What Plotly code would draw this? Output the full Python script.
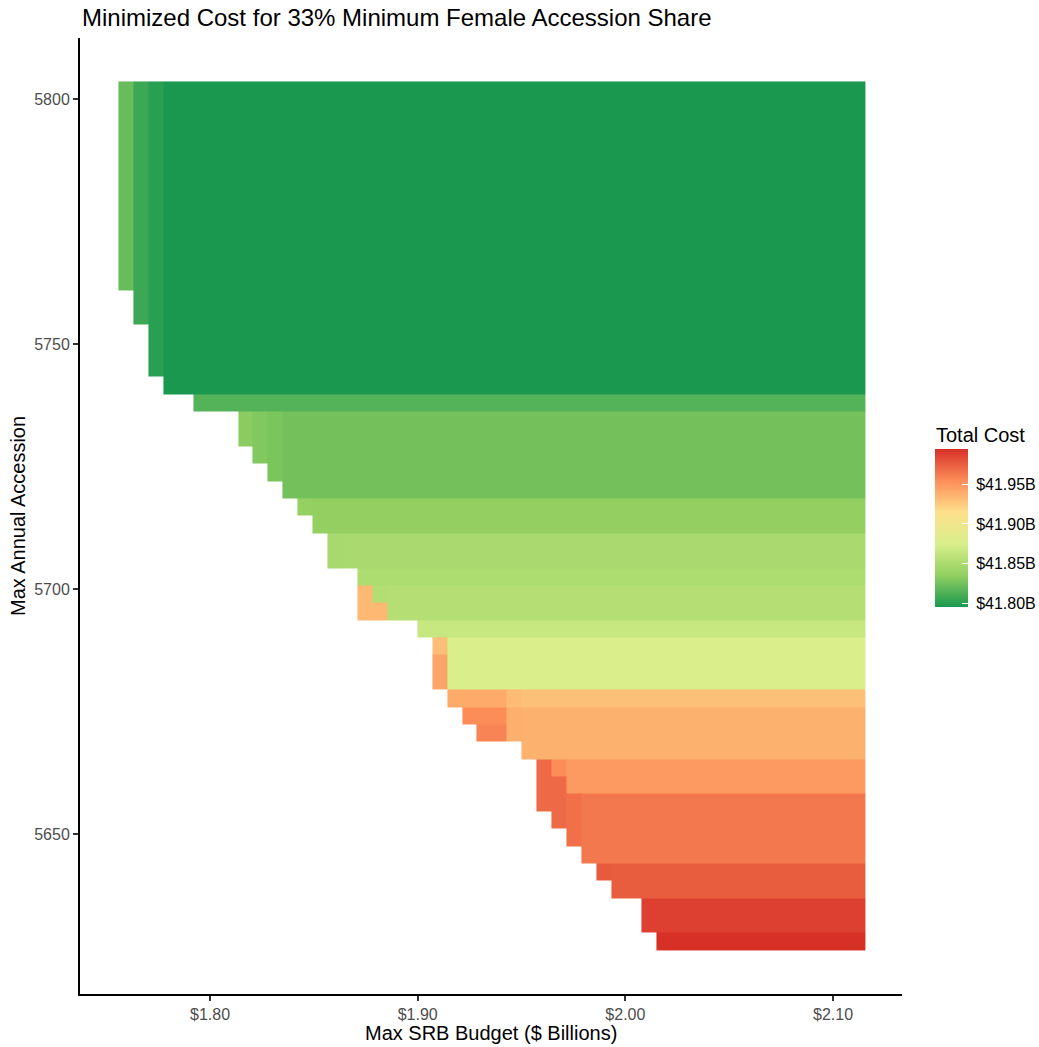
import plotly.graph_objects as go

# Max SRB Budget ($ billions) - tile centres (columns)
budget = [1.7595, 1.7667, 1.7739, 1.7811, 1.7883, 1.7955, 1.8027, 1.8099, 1.8171, 1.8242,
          1.8314, 1.8386, 1.8458, 1.8530, 1.8602, 1.8674, 1.8746, 1.8818, 1.8889, 1.8961,
          1.9033, 1.9105, 1.9177, 1.9249, 1.9321, 1.9393, 1.9465, 1.9537, 1.9608, 1.9680,
          1.9752, 1.9824, 1.9896, 1.9968, 2.0040, 2.0112, 2.0184, 2.0255, 2.0327, 2.0399,
          2.0471, 2.0543, 2.0615, 2.0687, 2.0759, 2.0831, 2.0902, 2.0974, 2.1046, 2.1118]

# Max Annual Accession - tile centres, listed from the top row down
accession = [5801.81, 5798.26, 5794.72, 5791.17, 5787.63, 5784.08, 5780.54, 5776.99, 5773.45, 5769.90,
             5766.36, 5762.81, 5759.27, 5755.72, 5752.18, 5748.63, 5745.09, 5741.54, 5738.00, 5734.45,
             5730.91, 5727.36, 5723.82, 5720.27, 5716.73, 5713.18, 5709.64, 5706.09, 5702.55, 5699.00,
             5695.46, 5691.91, 5688.37, 5684.82, 5681.28, 5677.73, 5674.19, 5670.64, 5667.10, 5663.55,
             5660.01, 5656.46, 5652.92, 5649.37, 5645.83, 5642.28, 5638.74, 5635.19, 5631.65, 5628.10]

# first feasible budget column of each accession row (top row first)
row_first_col = [0, 0, 0, 0, 0, 0, 0, 0, 0, 0,
                 0, 0, 1, 1, 2, 2, 2, 3, 5, 8,
                 8, 9, 10, 11, 12, 13, 14, 14, 16, 16,
                 16, 20, 21, 21, 21, 22, 23, 24, 27, 28,
                 28, 28, 29, 30, 31, 32, 33, 35, 35, 36]

# total cost ($ billions) of the cells from the first feasible column on;
# the last value holds for the rest of the row
row_costs = [
    [41.8224, 41.8074, 41.8011, 41.7960],
    [41.8224, 41.8074, 41.8011, 41.7960],
    [41.8224, 41.8074, 41.8011, 41.7960],
    [41.8224, 41.8074, 41.8011, 41.7960],
    [41.8224, 41.8074, 41.8011, 41.7960],
    [41.8224, 41.8074, 41.8011, 41.7960],
    [41.8224, 41.8074, 41.8011, 41.7960],
    [41.8224, 41.8074, 41.8011, 41.7960],
    [41.8224, 41.8074, 41.8011, 41.7960],
    [41.8224, 41.8074, 41.8011, 41.7960],
    [41.8224, 41.8074, 41.8011, 41.7960],
    [41.8224, 41.8074, 41.8011, 41.7960],
    [41.8074, 41.8011, 41.7960],
    [41.8074, 41.8011, 41.7960],
    [41.8011, 41.7960],
    [41.8011, 41.7960],
    [41.8011, 41.7960],
    [41.7960],
    [41.8155],
    [41.8335, 41.8304, 41.8284, 41.8260],
    [41.8335, 41.8304, 41.8284, 41.8260],
    [41.8304, 41.8284, 41.8260],
    [41.8284, 41.8260],
    [41.8260],
    [41.8379, 41.8367],
    [41.8367],
    [41.8483, 41.8495],
    [41.8483, 41.8495],
    [41.8515],
    [41.9340, 41.8543, 41.8555],
    [41.9340, 41.9340, 41.8555],
    [41.8658],
    [41.9312, 41.8764],
    [41.9436, 41.8764],
    [41.9436, 41.8764],
    [41.9412, 41.9412, 41.9412, 41.9412, 41.9326, 41.9306],
    [41.9551, 41.9551, 41.9551, 41.9388, 41.9378],
    [41.9595, 41.9595, 41.9388, 41.9378],
    [41.9378],
    [41.9705, 41.9551, 41.9490],
    [41.9705, 41.9701, 41.9490],
    [41.9705, 41.9701, 41.9675, 41.9641],
    [41.9701, 41.9675, 41.9641],
    [41.9675, 41.9641],
    [41.9641],
    [41.9770, 41.9756],
    [41.9756],
    [41.9881],
    [41.9881],
    [41.9950],
]

cost_ticks = [41.80, 41.85, 41.90, 41.95]
x_ticks = [1.80, 1.90, 2.00, 2.10]
y_ticks = [5650, 5700, 5750, 5800]

ncol = len(budget)
z = []
for start, costs in zip(row_first_col, row_costs):
    row = [None] * start + list(costs) + [costs[-1]] * (ncol - start - len(costs))
    z.append(row)

palette = [[0.0, '#1a9850'], [0.2, '#91cf60'], [0.4, '#d9ef8b'],
           [0.6, '#fee08b'], [0.8, '#fc8d59'], [1.0, '#d73027']]

FONT = "Liberation Sans, Arial, sans-serif"
NBSP = '\u00a0'

fig = go.Figure(go.Heatmap(
    x=budget, y=accession, z=z,
    colorscale=palette,
    hoverongaps=False,
    colorbar=dict(
        x=(935 - 80) / 822, xanchor='left', xpad=0,
        y=(994 - 527.5) / 956, yanchor='middle', ypad=0,
        thickness=33, thicknessmode='pixels',
        len=158, lenmode='pixels',
        outlinewidth=0,
        ticks='inside', ticklen=6, tickcolor='white', tickwidth=1,
        tickvals=cost_ticks,
        ticktext=[NBSP + '$%.2fB' % v for v in cost_ticks],
        tickfont=dict(family=FONT, size=16, color='black'),
    ),
))

fig.update_layout(
    width=1039, height=1047,
    margin=dict(l=80, r=137, t=38, b=53, autoexpand=False),
    paper_bgcolor='white', plot_bgcolor='white',
    font=dict(family=FONT, color='black'),
    title=dict(text='Minimized Cost for 33% Minimum Female Accession Share',
               x=82 / 1039, xanchor='left', xref='container',
               y=1 - 18 / 1047, yanchor='middle', yref='container',
               font=dict(family=FONT, size=24, color='black')),
    xaxis=dict(range=[1.7374, 2.1332], showgrid=False, zeroline=False,
               showline=True, linecolor='black', linewidth=2,
               ticks='outside', ticklen=5, tickcolor='#333333', tickwidth=1.5,
               tickvals=x_ticks, ticktext=['$%.2f' % v for v in x_ticks],
               tickfont=dict(family=FONT, size=16, color='#4d4d4d')),
    yaxis=dict(range=[5617.4, 5812.45], showgrid=False, zeroline=False,
               showline=True, linecolor='black', linewidth=2,
               ticks='outside', ticklen=5, tickcolor='#333333', tickwidth=1.5,
               tickvals=y_ticks, ticktext=[str(v) for v in y_ticks],
               tickfont=dict(family=FONT, size=16, color='#4d4d4d')),
    annotations=[
        dict(text='Max SRB Budget ($ Billions)', xref='paper', yref='paper',
             x=0.5, y=-(1033 - 994) / 956, xanchor='center', yanchor='middle',
             showarrow=False, font=dict(family=FONT, size=20, color='black')),
        dict(text='Max Annual Accession', xref='paper', yref='paper',
             x=(18 - 80) / 822, y=0.5, xanchor='center', yanchor='middle',
             textangle=-90, showarrow=False,
             font=dict(family=FONT, size=20, color='black')),
        dict(text='Total Cost', xref='paper', yref='paper',
             x=(934 - 80) / 822, y=(994 - 435) / 956, xanchor='left', yanchor='middle',
             showarrow=False, font=dict(family=FONT, size=20, color='black')),
    ],
)

fig.write_html("out.html", config={'displayModeBar': False},
               post_script="document.body.style.margin='0px';")
